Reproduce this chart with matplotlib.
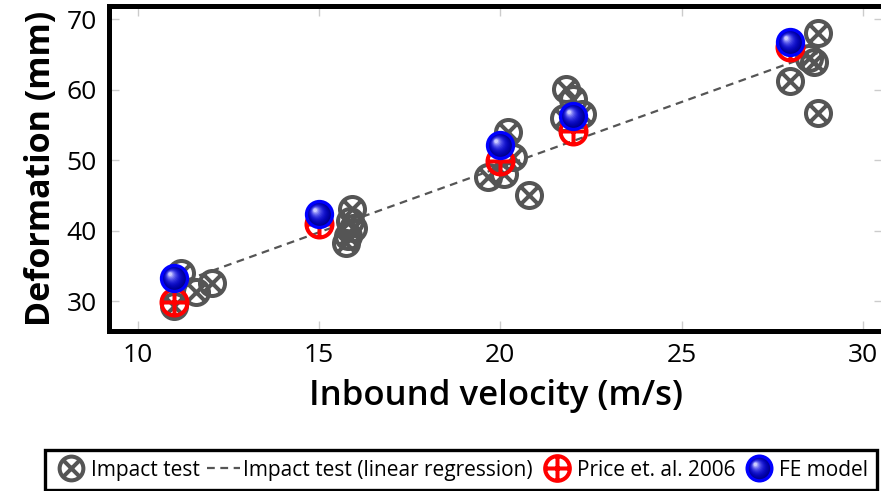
import numpy as np
import matplotlib
matplotlib.use("Agg")
import matplotlib.pyplot as plt
from matplotlib.path import Path
from matplotlib.legend_handler import HandlerTuple

# impact tests (gray crossed circles)
impact_v = [11.2, 11.6, 12.05, 11.0, 15.9, 15.85, 15.95, 15.8, 15.75,
            20.2, 20.35, 19.65, 20.1, 20.8, 21.8, 22.0, 22.25, 21.75,
            28.75, 28.65, 28.5, 28.0, 28.75]
impact_d = [34.0, 31.3, 32.6, 29.3, 43.1, 41.3, 40.4, 39.2, 38.3,
            54.0, 50.5, 47.6, 48.1, 45.1, 60.1, 58.7, 56.5, 56.0,
            68.0, 63.9, 64.5, 61.2, 56.7]

# linear regression of the impact tests (end points)
reg_v = [11.0, 28.75]
reg_d = [32.35, 65.2]

# Price et. al. 2006
price_v = [11, 15, 20, 22, 28]
price_d = [29.8, 41.0, 49.9, 54.1, 66.1]

# FE model
fe_v = [11, 15, 20, 22, 28]
fe_d = [33.2, 42.3, 52.2, 56.2, 66.8]

x_ticks = [10, 15, 20, 25, 30]
y_ticks = [30, 40, 50, 60, 70]

GRAY = "#555555"
plt.rcParams["font.family"] = ["Open Sans", "DejaVu Sans"]


def _circle_with(lines):
	parts = [Path.unit_circle()]
	for (x0, y0), (x1, y1) in lines:
		parts.append(Path([(x0, y0), (x1, y1)], [Path.MOVETO, Path.LINETO]))
	return Path.make_compound_path(*parts)


def _shifted_circle(r, dx, dy):
	# the two leading MOVETOs keep the marker scale identical for every layer
	c = Path.unit_circle()
	verts = np.vstack([[(-1, -1), (1, 1)], c.vertices * r + [dx, dy]])
	codes = np.concatenate([[Path.MOVETO, Path.MOVETO], c.codes])
	return Path(verts, codes)


a = np.sqrt(0.5)
otimes = _circle_with([((-a, -a), (a, a)), ((-a, a), (a, -a))])
oplus = _circle_with([((-1, 0), (1, 0)), ((0, -1), (0, 1))])

fig = plt.figure(figsize=(8.81, 4.91), dpi=100)
ax = fig.add_axes([109 / 881, 160.2 / 491, 775 / 881, 324.6 / 491])

line_reg, = ax.plot(reg_v, reg_d, ls=(0, (3.5, 2.5)), color=GRAY, lw=1.6, zorder=2,
                    label="Impact test (linear regression)")
h_imp, = ax.plot(impact_v, impact_d, ls="none", marker=otimes, ms=18, mew=2.9,
                 mec=GRAY, mfc="none", zorder=3, label="Impact test")
h_price, = ax.plot(price_v, price_d, ls="none", marker=oplus, ms=18.7, mew=2.9,
                   mec="#ff0000", mfc="none", zorder=4, label="Price et. al. 2006")

# FE model: shaded sphere built from stacked circles
sphere = []
n_layers = 14
for i in range(n_layers):
	t = i / (n_layers - 1)
	r = 1 - 0.86 * t
	dx, dy = -0.33 * t, 0.33 * t
	col = (0.8 * t ** 3, 0.8 * t ** 3, 0.35 + 0.65 * t ** 0.5)
	h, = ax.plot(fe_v, fe_d, ls="none", marker=_shifted_circle(r, dx, dy), ms=18.7,
	             mew=0, mfc=col, zorder=5)
	sphere.append(h)
h_rim, = ax.plot(fe_v, fe_d, ls="none", marker=_shifted_circle(1, 0, 0), ms=18.7,
                 mew=2.4, mec="#0000ff", mfc="none", zorder=6)
sphere.append(h_rim)

ax.set_xlim(9.21, 30.58)
ax.set_ylim(25.77, 71.86)
ax.set_xticks(x_ticks)
ax.set_yticks(y_ticks)
ax.tick_params(direction="in", length=7, width=1, color="#cccccc", top=True, right=True,
               labelsize=19, pad=9)
for s in ax.spines.values():
	s.set_linewidth(3.6)
	s.set_color("black")

ax.set_xlabel("Inbound velocity (m/s)", fontsize=25, fontweight="semibold", labelpad=8)
ax.set_ylabel("Deformation (mm)", fontsize=24.5, fontweight="bold", labelpad=6)

leg = fig.legend([h_imp, line_reg, h_price, tuple(sphere)],
                 ["Impact test", "Impact test (linear regression)", "Price et. al. 2006", "FE model"],
                 handler_map={tuple: HandlerTuple(ndivide=1, pad=0)},
                 loc="lower left", bbox_to_anchor=(45 / 881, 1 / 491), ncol=4,
                 fontsize=15, frameon=True, fancybox=False, framealpha=1,
                 edgecolor="black", handlelength=1.6, handletextpad=0.15,
                 columnspacing=0.35, borderpad=0.45, markerscale=0.95, borderaxespad=0)
leg.get_frame().set_linewidth(2.4)

fig.savefig("out.png", dpi=100)
